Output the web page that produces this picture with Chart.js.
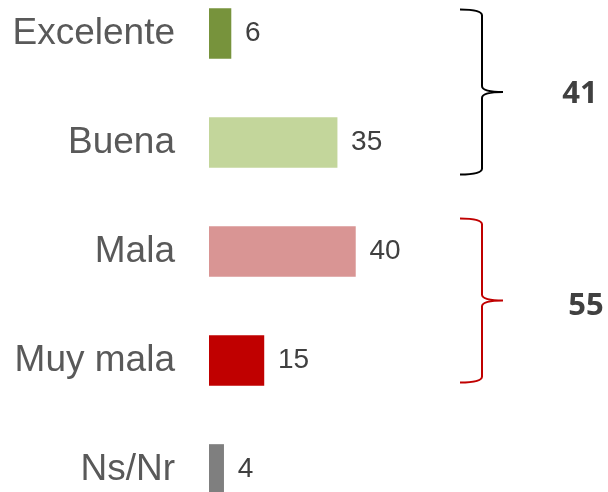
<!DOCTYPE html>
<html lang="es">
<head>
<meta charset="utf-8">
<script src="https://cdn.jsdelivr.net/npm/chart.js@4/dist/chart.umd.min.js"></script>
<style>
    html, body { margin: 0; padding: 0; background: #fff; overflow: hidden; }
    body { width: 608px; height: 492px; position: relative; }
    #wrap { position: absolute; left: 0; top: -21px; width: 608px; height: 545px; }
</style>
</head>
<body>
<div id="wrap"><canvas id="grafico"></canvas></div>
<script>
// ===================== DADOS =====================
const categorias = ["Excelente", "Buena", "Mala", "Muy mala", "Ns/Nr"];
const valores    = [6, 35, 40, 15, 4];
const coresBarra = ["#77933c", "#c3d69b", "#d99594", "#c00000", "#7f7f7f"];

// grupos das chaves (índices das categorias)
const grupoInicio = [0, 2];
const grupoFim    = [1, 3];
const grupoCor    = ["#000000", "#c00000"];

// ===================== ESTILO =====================
const COR_ROTULO = "#595959";
const COR_VALOR  = "#404040";
const FONTE      = "'Liberation Sans', Arial, sans-serif";

// ajustes finos das chaves (px)
const chaveAcima  = [24, 33];
const chaveAbaixo = [32, 22];
const totalX      = [580, 586];
const totalDy     = [2, 6];

// rótulos de valor ao lado das barras
const pluginValores = {
    id: "valores",
    afterDatasetsDraw(chart) {
        const ctx  = chart.ctx;
        const meta = chart.getDatasetMeta(0);
        ctx.save();
        ctx.font = "28px " + FONTE;
        ctx.fillStyle = COR_VALOR;
        ctx.textAlign = "left";
        ctx.textBaseline = "middle";
        meta.data.forEach((bar, i) => {
            ctx.fillText(String(valores[i]), bar.x + 14, bar.y);
        });
        ctx.restore();
    }
};

// chaves "}" com os totais
const pluginChaves = {
    id: "chaves",
    afterDraw(chart) {
        const ctx = chart.ctx;
        const y   = chart.scales.y;
        const xBraco = 460, xVert = 482, xPonta = 503, r = 6;

        grupoInicio.forEach((ini, g) => {
            const fim    = grupoFim[g];
            const topo   = y.getPixelForValue(ini) - chaveAcima[g];
            const base   = y.getPixelForValue(fim) + chaveAbaixo[g];
            const meio   = (topo + base) / 2;

            ctx.save();
            ctx.strokeStyle = grupoCor[g];
            ctx.lineWidth = 2;
            ctx.beginPath();
            ctx.moveTo(xBraco, topo);
            ctx.quadraticCurveTo(xVert, topo, xVert, topo + r);
            ctx.lineTo(xVert, meio - r);
            ctx.quadraticCurveTo(xVert, meio, xPonta, meio);
            ctx.quadraticCurveTo(xVert, meio, xVert, meio + r);
            ctx.lineTo(xVert, base - r);
            ctx.quadraticCurveTo(xVert, base, xBraco, base);
            ctx.stroke();

            let total = 0;
            for (let k = ini; k <= fim; k++) total += valores[k];

            ctx.font = "bold 31px 'Open Sans', 'DejaVu Sans', sans-serif";
            ctx.fillStyle = COR_VALOR;
            ctx.textAlign = "center";
            ctx.textBaseline = "middle";
            ctx.fillText(String(total), totalX[g], meio + totalDy[g]);
            ctx.restore();
        });
    }
};

new Chart(document.getElementById("grafico"), {
    type: "bar",
    data: {
        labels: categorias,
        datasets: [{
            data: valores,
            backgroundColor: coresBarra,
            borderWidth: 0,
            barThickness: 50,
        }],
    },
    options: {
        indexAxis: "y",
        responsive: true,
        maintainAspectRatio: false,
        animation: false,
        layout: { padding: { left: 0, right: 33, top: 0, bottom: 0 } },
        plugins: {
            legend: { display: false },
            tooltip: { enabled: false },
        },
        scales: {
            x: {
                display: false,
                min: 0,
                max: 100,
            },
            y: {
                grid: { display: false, drawTicks: false },
                border: { display: false },
                ticks: {
                    color: COR_ROTULO,
                    font: { size: 37, family: FONTE },
                    padding: 34,
                },
                afterFit(scale) {
                    scale.width = 209;
                    scale.paddingTop = 0;
                    scale.paddingBottom = 0;
                },
            },
        },
    },
    plugins: [pluginValores, pluginChaves],
});
</script>
</body>
</html>
